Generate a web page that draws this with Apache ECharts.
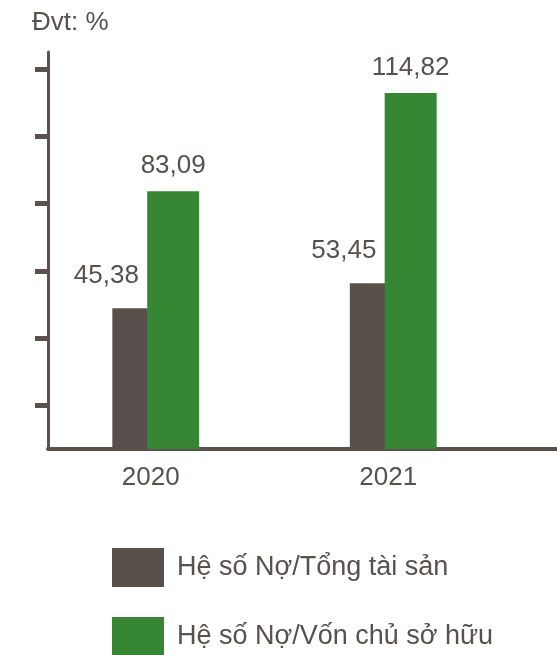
<!DOCTYPE html>
<html>
<head>
<meta charset="utf-8">
<style>
  html, body { margin: 0; padding: 0; background: #ffffff; }
  #chart { width: 557px; height: 655px; }
</style>
<script src="https://cdn.jsdelivr.net/npm/echarts@6/dist/echarts.min.js"></script>
</head>
<body>
<div id="chart"></div>
<script>
// ---- data ----
const categories = ['2020', '2021'];
const debtToAssets = [45.38, 53.45];     // Hệ số Nợ/Tổng tài sản
const debtToEquity = [83.09, 114.82];    // Hệ số Nợ/Vốn chủ sở hữu
const seriesNames = ['Hệ số Nợ/Tổng tài sản', 'Hệ số Nợ/Vốn chủ sở hữu'];
const unitLabel = 'Đvt: %';
const yTickValues = [14.0, 35.7, 57.4, 79.1, 100.8, 122.4];

// ---- style ----
const FONT = "'Liberation Sans', Arial, sans-serif";
const TEXT = '#58514d';
const GRAY = '#5a504b';
const GREEN = '#378634';
const AXIS = '#5a514d';
const YMAX = 128;
const FS = 26;

const fmt = v => v.toFixed(2).replace('.', ',');

const chart = echarts.init(document.getElementById('chart'), null, { renderer: 'canvas' });

function legendFor(name, top) {
  return {
    orient: 'vertical',
    left: 112, top: top, padding: 0,
    itemWidth: 52, itemHeight: 39,
    icon: 'rect',
    data: [name],
    textStyle: { fontFamily: FONT, fontSize: 27, color: TEXT, padding: [0, 0, 0, 8] }
  };
}

chart.setOption({
  backgroundColor: '#ffffff',
  animation: false,
  textStyle: { fontFamily: FONT },
  title: {
    text: unitLabel,
    left: 32, top: 10, padding: 0,
    textStyle: { fontFamily: FONT, fontSize: FS, fontWeight: 'normal', color: TEXT }
  },
  legend: [legendFor(seriesNames[0], 548), legendFor(seriesNames[1], 617)],
  grid: [
    { left: 37, right: 45, top: 52, bottom: 206 },   // bars
    { left: 48, right: 0, top: 52, bottom: 206 }     // axis frame
  ],
  xAxis: [
    {
      type: 'category', gridIndex: 0, data: categories,
      axisLine: { show: false }, axisTick: { show: false },
      axisLabel: { fontFamily: FONT, fontSize: FS, color: TEXT, margin: 16, padding: [0, 10, 0, 0] }
    },
    {
      type: 'value', gridIndex: 1, min: 0, max: 1,
      axisLine: { show: true, lineStyle: { color: AXIS, width: 4 } },
      axisTick: { show: false }, axisLabel: { show: false }, splitLine: { show: false }
    }
  ],
  yAxis: [
    { type: 'value', gridIndex: 0, min: 0, max: YMAX, show: false, splitLine: { show: false } },
    {
      type: 'value', gridIndex: 1, min: 0, max: YMAX,
      axisLine: { show: true, lineStyle: { color: AXIS, width: 3 } },
      axisTick: { show: true, customValues: yTickValues, length: 13, lineStyle: { color: AXIS, width: 5 } },
      axisLabel: { show: false }, splitLine: { show: false }
    }
  ],
  series: [
    {
      name: seriesNames[0], type: 'bar', xAxisIndex: 0, yAxisIndex: 0,
      data: debtToAssets, barWidth: 52, barGap: '-33%',
      itemStyle: { color: GRAY },
      label: { show: true, position: 'top', distance: 19, offset: [-32, 0],
               fontFamily: FONT, fontSize: FS, color: TEXT, formatter: p => fmt(p.value) }
    },
    {
      name: seriesNames[1], type: 'bar', xAxisIndex: 0, yAxisIndex: 0,
      data: debtToEquity, barWidth: 52, barGap: '-33%',
      itemStyle: { color: GREEN },
      label: { show: true, position: 'top', distance: 12,
               fontFamily: FONT, fontSize: FS, color: TEXT, formatter: p => fmt(p.value) }
    }
  ]
});
</script>
</body>
</html>
